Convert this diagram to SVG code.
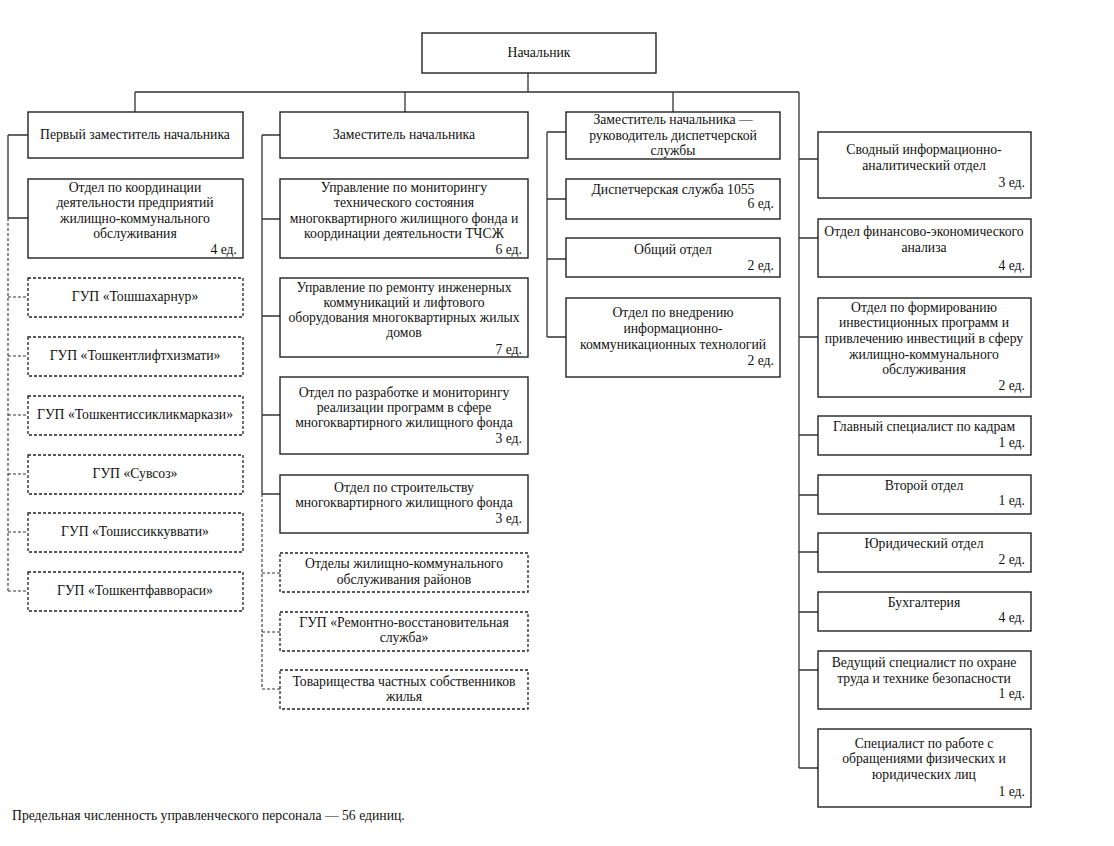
<svg xmlns="http://www.w3.org/2000/svg" width="1114" height="846" viewBox="0 0 1114 846">
<style>
text{font-family:'Liberation Serif','Times New Roman',serif;font-size:13.7px;fill:#111}
.c{text-anchor:middle}
.r{text-anchor:end}
.b{fill:#fff;stroke:#222;stroke-width:1.4}
.d{fill:#fff;stroke:#222;stroke-width:1.3;stroke-dasharray:3 2}
.ln{fill:none;stroke:#333;stroke-width:1.3}
.dl{fill:none;stroke:#333;stroke-width:1.1;stroke-dasharray:3 2}
</style>
<rect width="1114" height="846" fill="#fff"/>
<g id="connectors">
<path class="ln" d="M528 73V92M135 92H799M135 92V112M405 92V112M673 92V112M799 92V768"/>
<path class="ln" d="M8 135H28M8 135V218M8 218H28"/>
<path class="dl" d="M8 218V591M8 297H28M8 356H28M8 415H28M8 474H28M8 532H28M8 591H28"/>
<path class="ln" d="M262 135H280M262 135V494M262 219H280M262 316H280M262 415H280M262 494H280"/>
<path class="dl" d="M262 494V689M262 573H280M262 632H280M262 689H280"/>
<path class="ln" d="M547 132H566M547 132V337M547 199H566M547 259H566M547 337H566"/>
<path class="ln" d="M799 159H818M799 238H818M799 337H818M799 435H818M799 495H818M799 552H818M799 612H818M799 670H818M799 768H818"/>
</g>
<g id="n-head"><rect class="b" x="422" y="33" width="234" height="40"/><text class="c" x="539" y="57">Начальник</text></g>

<g id="n-first"><rect class="b" x="28" y="112" width="215" height="46"/><text class="c" x="135" y="139">Первый заместитель начальника</text></g>
<g id="n-coord"><rect class="b" x="28" y="179" width="215" height="79"/>
<text class="c" x="135" y="192">Отдел по координации</text>
<text class="c" x="135" y="207">деятельности предприятий</text>
<text class="c" x="135" y="223">жилищно-коммунального</text>
<text class="c" x="135" y="238">обслуживания</text>
<text class="r" x="237" y="254">4 ед.</text></g>
<g id="n-gup1"><rect class="d" x="28" y="278" width="215" height="39"/><text class="c" x="135" y="301">ГУП «Тошшахарнур»</text></g>
<g id="n-gup2"><rect class="d" x="28" y="337" width="215" height="39"/><text class="c" x="135" y="360">ГУП «Тошкентлифтхизмати»</text></g>
<g id="n-gup3"><rect class="d" x="28" y="396" width="215" height="39"/><text class="c" x="135" y="419">ГУП «Тошкентиссикликмаркази»</text></g>
<g id="n-gup4"><rect class="d" x="28" y="455" width="215" height="39"/><text class="c" x="135" y="478">ГУП «Сувсоз»</text></g>
<g id="n-gup5"><rect class="d" x="28" y="513" width="215" height="39"/><text class="c" x="135" y="536">ГУП «Тошиссиккуввати»</text></g>
<g id="n-gup6"><rect class="d" x="28" y="572" width="215" height="39"/><text class="c" x="135" y="595">ГУП «Тошкентфаввораси»</text></g>

<g id="n-dep"><rect class="b" x="280" y="112" width="248" height="46"/><text class="c" x="404" y="139">Заместитель начальника</text></g>
<g id="n-mon"><rect class="b" x="280" y="179" width="248" height="79"/>
<text class="c" x="404" y="192">Управление по мониторингу</text>
<text class="c" x="404" y="207">технического состояния</text>
<text class="c" x="404" y="223">многоквартирного жилищного фонда и</text>
<text class="c" x="404" y="238">координации деятельности ТЧСЖ</text>
<text class="r" x="522" y="254">6 ед.</text></g>
<g id="n-rem"><rect class="b" x="280" y="278" width="248" height="79"/>
<text class="c" x="404" y="292">Управление по ремонту инженерных</text>
<text class="c" x="404" y="307">коммуникаций и лифтового</text>
<text class="c" x="404" y="322">оборудования многоквартирных жилых</text>
<text class="c" x="404" y="337">домов</text>
<text class="r" x="522" y="354">7 ед.</text></g>
<g id="n-razr"><rect class="b" x="280" y="377" width="248" height="77"/>
<text class="c" x="404" y="397">Отдел по разработке и мониторингу</text>
<text class="c" x="404" y="412">реализации программ в сфере</text>
<text class="c" x="404" y="427">многоквартирного жилищного фонда</text>
<text class="r" x="522" y="443">3 ед.</text></g>
<g id="n-str"><rect class="b" x="280" y="475" width="248" height="58"/>
<text class="c" x="404" y="492">Отдел по строительству</text>
<text class="c" x="404" y="507">многоквартирного жилищного фонда</text>
<text class="r" x="522" y="523">3 ед.</text></g>
<g id="n-zhko"><rect class="d" x="280" y="553" width="248" height="39"/>
<text class="c" x="404" y="568">Отделы жилищно-коммунального</text>
<text class="c" x="404" y="584">обслуживания районов</text></g>
<g id="n-rvs"><rect class="d" x="280" y="612" width="248" height="39"/>
<text class="c" x="404" y="627">ГУП «Ремонтно-восстановительная</text>
<text class="c" x="404" y="642">служба»</text></g>
<g id="n-tchs"><rect class="d" x="280" y="670" width="248" height="39"/>
<text class="c" x="404" y="686">Товарищества частных собственников</text>
<text class="c" x="404" y="701">жилья</text></g>

<g id="n-disp"><rect class="b" x="566" y="112" width="214" height="47"/>
<text class="c" x="673" y="124">Заместитель начальника —</text>
<text class="c" x="673" y="140">руководитель диспетчерской</text>
<text class="c" x="673" y="155">службы</text></g>
<g id="n-1055"><rect class="b" x="566" y="179" width="214" height="40"/>
<text class="c" x="673" y="194">Диспетчерская служба 1055</text>
<text class="r" x="774" y="208">6 ед.</text></g>
<g id="n-obsh"><rect class="b" x="566" y="238" width="214" height="39"/>
<text class="c" x="673" y="254">Общий отдел</text>
<text class="r" x="774" y="270">2 ед.</text></g>
<g id="n-ikt"><rect class="b" x="566" y="298" width="214" height="79"/>
<text class="c" x="673" y="317">Отдел по внедрению</text>
<text class="c" x="673" y="333">информационно-</text>
<text class="c" x="673" y="349">коммуникационных технологий</text>
<text class="r" x="774" y="365">2 ед.</text></g>

<g id="n-svod"><rect class="b" x="818" y="132" width="213" height="66"/>
<text class="c" x="924" y="154">Сводный информационно-</text>
<text class="c" x="924" y="170">аналитический отдел</text>
<text class="r" x="1025" y="187">3 ед.</text></g>
<g id="n-fin"><rect class="b" x="818" y="219" width="213" height="58"/>
<text class="c" x="924" y="236">Отдел финансово-экономического</text>
<text class="c" x="924" y="252">анализа</text>
<text class="r" x="1025" y="270">4 ед.</text></g>
<g id="n-inv"><rect class="b" x="818" y="298" width="213" height="99"/>
<text class="c" x="924" y="312">Отдел по формированию</text>
<text class="c" x="924" y="327">инвестиционных программ и</text>
<text class="c" x="924" y="343">привлечению инвестиций в сферу</text>
<text class="c" x="924" y="359">жилищно-коммунального</text>
<text class="c" x="924" y="374">обслуживания</text>
<text class="r" x="1025" y="390">2 ед.</text></g>
<g id="n-kadr"><rect class="b" x="818" y="416" width="213" height="39"/>
<text class="c" x="924" y="431">Главный специалист по кадрам</text>
<text class="r" x="1025" y="447">1 ед.</text></g>
<g id="n-vtor"><rect class="b" x="818" y="475" width="213" height="39"/>
<text class="c" x="924" y="490">Второй отдел</text>
<text class="r" x="1025" y="505">1 ед.</text></g>
<g id="n-yur"><rect class="b" x="818" y="533" width="213" height="39"/>
<text class="c" x="924" y="548">Юридический отдел</text>
<text class="r" x="1025" y="564">2 ед.</text></g>
<g id="n-buh"><rect class="b" x="818" y="592" width="213" height="39"/>
<text class="c" x="924" y="607">Бухгалтерия</text>
<text class="r" x="1025" y="622">4 ед.</text></g>
<g id="n-ohr"><rect class="b" x="818" y="651" width="213" height="58"/>
<text class="c" x="924" y="667">Ведущий специалист по охране</text>
<text class="c" x="924" y="683">труда и технике безопасности</text>
<text class="r" x="1025" y="698">1 ед.</text></g>
<g id="n-obr"><rect class="b" x="818" y="729" width="213" height="78"/>
<text class="c" x="924" y="748">Специалист по работе с</text>
<text class="c" x="924" y="763">обращениями физических и</text>
<text class="c" x="924" y="779">юридических лиц</text>
<text class="r" x="1025" y="796">1 ед.</text></g>

<text x="12" y="820">Предельная численность управленческого персонала — 56 единиц.</text>
</svg>
